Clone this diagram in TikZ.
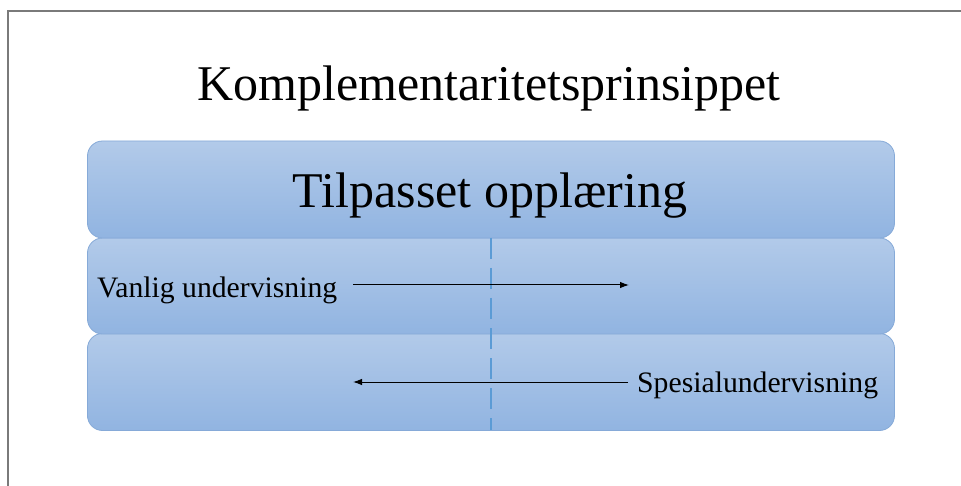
\documentclass[tikz,border=0pt]{standalone}
\usepackage{fontspec}
\setmainfont{Liberation Serif}
\usetikzlibrary{arrows.meta}
\definecolor{bandtop}{HTML}{B2CAE9}
\definecolor{bandbot}{HTML}{91B4E1}
\definecolor{bandedge}{HTML}{86AAD8}
\definecolor{divider}{HTML}{5B9BD5}
\definecolor{framegray}{HTML}{7A7A7A}
\tikzset{
  band/.style={draw=bandedge, line width=0.8pt, rounded corners=15pt,
    top color=bandtop, bottom color=bandbot,
    minimum width=807pt, inner sep=0pt},
  biglabel/.style={font=\fontsize{50}{60}\selectfont, inner sep=0pt, anchor=base},
  smalllabel/.style={font=\fontsize{29.7}{34}\selectfont, inner sep=0pt, anchor=base west},
  flow/.style={line width=1pt, -{Latex[length=9pt,width=6.5pt]}},
  splitline/.style={draw=divider, line width=2.5pt, dash pattern=on 21pt off 9pt}
}
\begin{document}
\begin{tikzpicture}[x=1pt, y=-1pt]
  \useasboundingbox (0,0) rectangle (961,486);
  \fill[white] (0,0) rectangle (961,486);
  % slide frame
  \draw[framegray, line width=1.8pt] (8,486) -- (8,11) -- (961,11);
  % title
  \node[biglabel] (title) at (489,101) {Komplementaritetsprinsippet};
  % three stacked bands
  \node[band, minimum height=97pt] (bottom) at (491,382) {};
  \node[band, minimum height=96pt] (middle) at (491,286) {};
  \node[band, minimum height=97pt] (top) at (491,189.5) {};
  \node[biglabel] (tilpasset) at (490,208) {Tilpasset opplæring};
  % dashed divider through the lower bands
  \coordinate (divtop) at (491,238);
  \coordinate (divbot) at (491,430);
  \draw[splitline] (divtop) -- (divbot);
  % labels and arrows
  \node[smalllabel] (vanlig) at (97,298) {Vanlig undervisning};
  \node[smalllabel] (spesial) at (637,392) {Spesialundervisning};
  \coordinate (vstart) at (353,285);
  \coordinate (vend) at (629,285);
  \coordinate (sstart) at (628,382);
  \coordinate (send) at (353,382);
  \draw[flow] (vstart) -- (vend);
  \draw[flow] (sstart) -- (send);
\end{tikzpicture}
\end{document}
